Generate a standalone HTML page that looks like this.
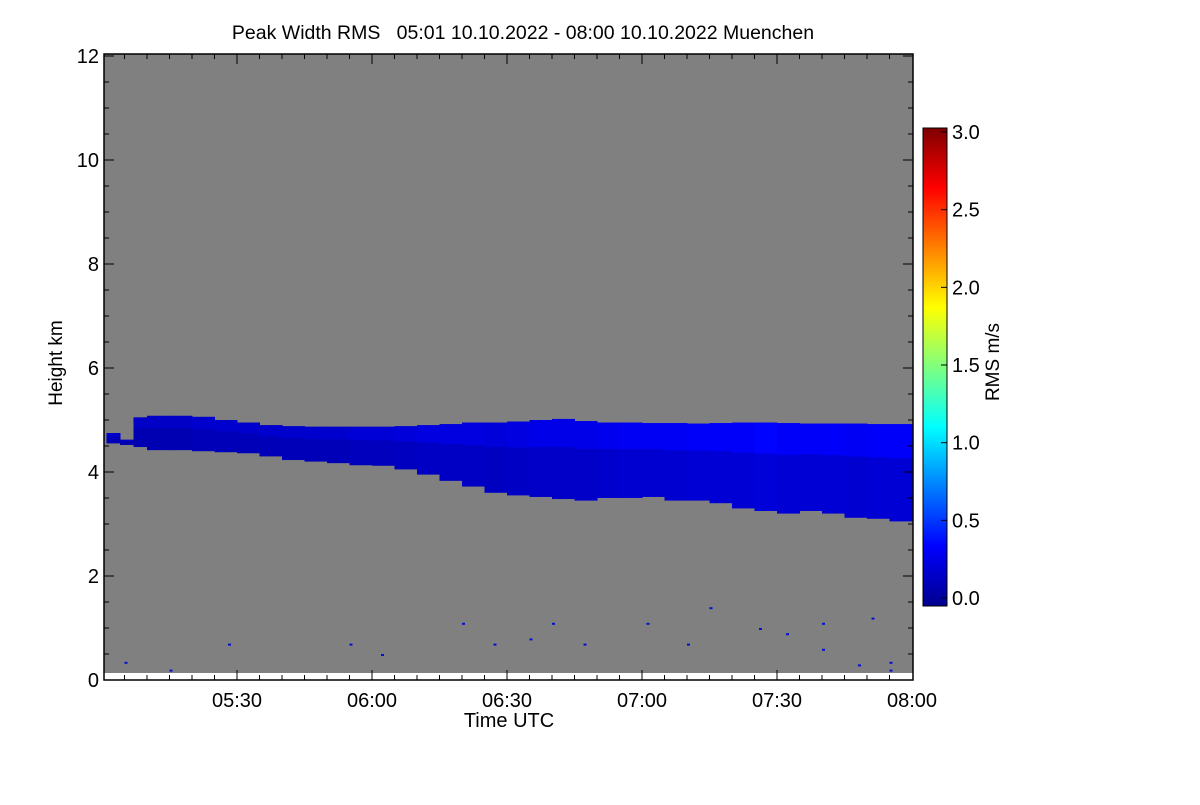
<!DOCTYPE html>
<html><head><meta charset="utf-8"><style>
body{margin:0;background:#fff;}
svg text{font-family:"Liberation Sans",Helvetica,sans-serif;fill:#000;}
</style></head><body>
<svg id="chart" width="1200" height="800" viewBox="0 0 1200 800" xmlns="http://www.w3.org/2000/svg">
<defs>
<linearGradient id="cb" x1="0" y1="1" x2="0" y2="0">
<stop offset="0" stop-color="#00008f"/><stop offset="0.125" stop-color="#0000ff"/>
<stop offset="0.375" stop-color="#00ffff"/><stop offset="0.5" stop-color="#7fff7f"/>
<stop offset="0.625" stop-color="#ffff00"/><stop offset="0.875" stop-color="#ff0000"/>
<stop offset="1" stop-color="#7f0000"/></linearGradient>
</defs>
<text x="523" y="39" font-size="19.5" text-anchor="middle" xml:space="preserve">Peak Width RMS   05:01 10.10.2022 - 08:00 10.10.2022 Muenchen</text>
<rect x="104" y="54" width="809" height="619" fill="#808080"/>
<g id="data"></g>
<g id="axes"></g>
<rect x="923" y="128" width="24" height="478" fill="url(#cb)" stroke="#000" stroke-width="1"/>
<g id="cbticks"></g>
<text transform="translate(999,362) rotate(-90)" font-size="19" text-anchor="middle">RMS m/s</text>
<text transform="translate(62,363) rotate(-90)" font-size="19" text-anchor="middle">Height km</text>
<text x="509" y="727" font-size="20" text-anchor="middle">Time UTC</text>
</svg>
<script>
const NS="http://www.w3.org/2000/svg";
// minutes after 05:00
const times=[1,4,7,10,15,20,25,30,35,40,45,50,55,60,65,70,75,80,85,90,95,100,105,110,115,120,125,130,135,140,145,150,155,160,165,170,175,180];
const tops=[4.75,4.62,5.05,5.08,5.08,5.06,5.0,4.95,4.9,4.88,4.87,4.87,4.87,4.87,4.88,4.9,4.92,4.95,4.95,4.97,5.0,5.02,4.98,4.95,4.95,4.94,4.94,4.93,4.94,4.95,4.95,4.94,4.93,4.93,4.93,4.92,4.92,4.9];
const bottoms=[4.55,4.52,4.48,4.42,4.42,4.4,4.38,4.36,4.3,4.23,4.2,4.17,4.13,4.12,4.05,3.95,3.83,3.72,3.6,3.55,3.52,3.48,3.45,3.5,3.5,3.52,3.45,3.45,3.4,3.3,3.25,3.2,3.25,3.2,3.12,3.1,3.05,3.15];
const vals=[0.25,0.2,0.22,0.22,0.22,0.25,0.25,0.25,0.25,0.25,0.25,0.25,0.28,0.28,0.3,0.32,0.32,0.32,0.3,0.32,0.35,0.35,0.35,0.38,0.4,0.4,0.4,0.42,0.42,0.42,0.45,0.42,0.42,0.42,0.4,0.42,0.42,0.42];
const specksT=[5,15,28,55,62,80,87,95,100,107,121,130,135,146,152,175,160,168,160,171,175];
const specksH=[0.35,0.2,0.7,0.7,0.5,1.1,0.7,0.8,1.1,0.7,1.1,0.7,1.4,1.0,0.9,0.2,1.1,0.3,0.6,1.2,0.35];
const yTicks=[0,2,4,6,8,10,12];
const xTicks=[30,60,90,120,150,180];
const xLabels=["05:30","06:00","06:30","07:00","07:30","08:00"];
const cbTicks=[0,0.5,1.0,1.5,2.0,2.5,3.0];
const X=m=>102+m*4.5, Y=h=>680-h*52, CB=v=>598-v*(466/3);
function el(t,a,p){const e=document.createElementNS(NS,t);for(const k in a)e.setAttribute(k,a[k]);p.appendChild(e);return e;}
function col(v){const t=v/3;const s=[[0,[0,0,143]],[0.125,[0,0,255]],[0.375,[0,255,255]],[0.5,[127,255,127]],[0.625,[255,255,0]],[0.875,[255,0,0]],[1,[127,0,0]]];
for(let i=1;i<s.length;i++)if(t<=s[i][0]){const f=(t-s[i-1][0])/(s[i][0]-s[i-1][0]);const c=s[i-1][1].map((a,j)=>Math.round(a+(s[i][1][j]-a)*f));return`rgb(${c})`;}return"rgb(127,0,0)";}
const d=document.getElementById("data");
for(let i=0;i<times.length-1;i++){
 const x0=X(times[i]),x1=X(times[i+1]);
 const r=el("rect",{x:x0,y:Y(tops[i]),width:x1-x0+0.5,height:Y(bottoms[i])-Y(tops[i]),fill:col(vals[i]*0.55)},d);
 
 
 const mid=tops[i]-(tops[i]-bottoms[i])*0.35;
 const u=el("rect",{x:x0,y:Y(tops[i]),width:x1-x0+0.5,height:Y(mid)-Y(tops[i]),fill:col(vals[i]*0.85)},d);
 
 
}
for(let i=0;i<specksT.length;i++){const s=el("rect",{x:X(specksT[i]),y:Y(specksH[i]),width:3,height:2,fill:"#0010d0"},d);
 
 }
const a=document.getElementById("axes");
const fr=el("rect",{x:104,y:54,width:809,height:626,fill:"none",stroke:"#000","stroke-width":1.5},a);


for(let m=5;m<180;m+=5){const x=X(m),L=(m%30==0)?10:5;
 el("line",{x1:x,x2:x,y1:680,y2:680-L,stroke:"#000"},a);el("line",{x1:x,x2:x,y1:54,y2:54+L,stroke:"#000"},a);}
for(let h=0;h<=12;h+=0.5){const y=Y(h),L=(h%2==0)?10:5;
 el("line",{x1:104,x2:104+L,y1:y,y2:y,stroke:"#000"},a);el("line",{x1:913,x2:913-L,y1:y,y2:y,stroke:"#000"},a);}
yTicks.forEach(h=>{const t=el("text",{x:99,y:Y(h)+7,"font-size":20,"text-anchor":"end"},a);t.textContent=h;
 
 });
xTicks.forEach((m,i)=>{const t=el("text",{x:X(m),y:707,"font-size":20,"text-anchor":"middle"},a);t.textContent=xLabels[i];
 
 });
const c=document.getElementById("cbticks");
cbTicks.forEach(v=>{const y=CB(v);el("line",{x1:941,x2:947,y1:y,y2:y,stroke:"#000"},c);
 const t=el("text",{x:952,y:y+7,"font-size":20},c);t.textContent=v.toFixed(1);
 
 });
</script>
</body></html>
